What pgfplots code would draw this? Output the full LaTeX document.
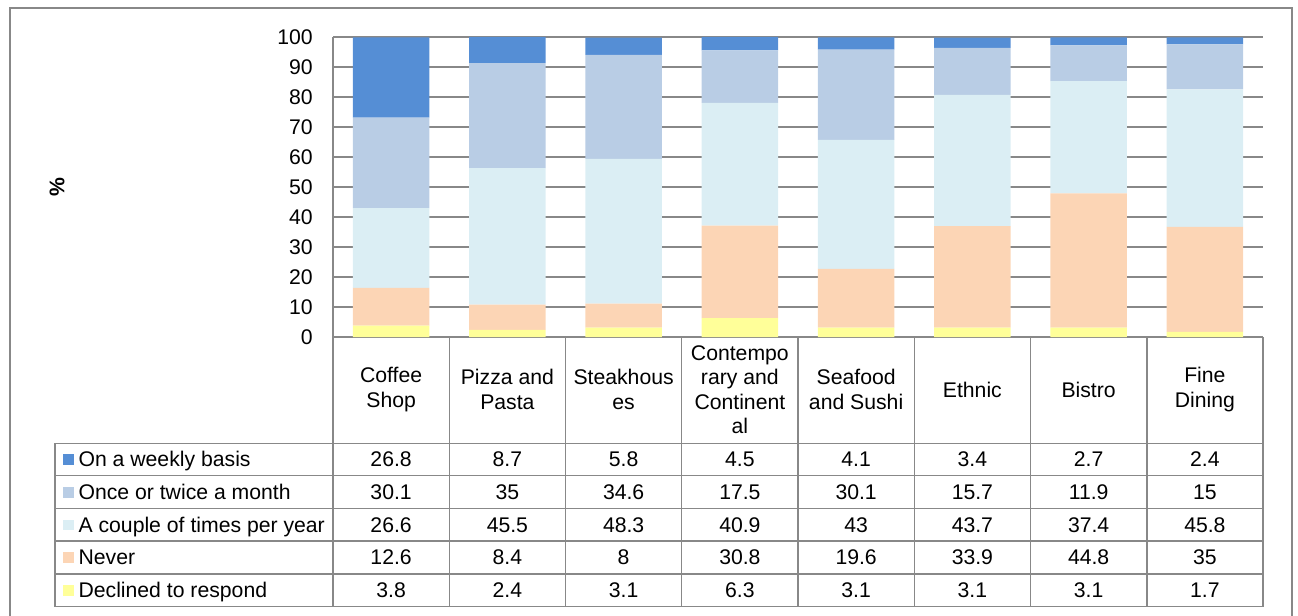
\documentclass[border=0pt]{standalone}
\usepackage{pgfplots}
\usepackage{pgfplotstable}
\pgfplotsset{compat=1.18}
\usepackage{fontspec}
\setmainfont{Liberation Sans}

\definecolor{weekly}{RGB}{85,142,213}
\definecolor{monthly}{RGB}{185,205,229}
\definecolor{yearly}{RGB}{219,238,244}
\definecolor{never}{RGB}{252,213,181}
\definecolor{declined}{RGB}{255,255,153}
\definecolor{gridgray}{RGB}{136,136,136}

\newcommand\chartfont{\fontsize{15.9pt}{18.4pt}\selectfont}

% Share of respondents (%) by visit frequency, per restaurant type
\pgfplotstableread{
cat weekly monthly yearly never declined
0   26.8   30.1    26.6   12.6  3.8
1   8.7    35      45.5   8.4   2.4
2   5.8    34.6    48.3   8     3.1
3   4.5    17.5    40.9   30.8  6.3
4   4.1    30.1    43     19.6  3.1
5   3.4    15.7    43.7   33.9  3.1
6   2.7    11.9    37.4   44.8  3.1
7   2.4    15      45.8   35    1.7
}\freq

\begin{document}
\begin{tikzpicture}[x=0.75pt, y=0.75pt, font=\chartfont]
\begin{axis}[
  at={(249.75pt,208.5pt)}, anchor=south west,
  scale only axis, width=697.5pt, height=225pt,
  ybar stacked, bar width=0.66,
  xmin=-0.5, xmax=7.5, ymin=0, ymax=100,
  xtick={0,...,7},
  xticklabels={Coffee\\Shop, Pizza and\\Pasta, Steakhous\\es,
    Contempo\\rary and\\Continent\\al, Seafood\\and Sushi,
    Ethnic, Bistro, Fine\\Dining},
  xticklabel style={align=center, anchor=center, yshift=-39.5pt, inner sep=0pt},
  ytick={0,10,...,100},
  yticklabel style={anchor=east, inner sep=0pt, xshift=-15pt},
  tick label style={font=\chartfont},
  /pgf/number format/assume math mode=true,
  major tick length=0pt,
  ymajorgrids, grid style={gridgray, line width=1.1pt},
  axis lines*=left, axis line style={gridgray, line width=1.1pt},
  ylabel={\%},
  ylabel style={at={(axis description cs:-0.2968,0.5)}, anchor=center,
    rotate=0, font=\chartfont\bfseries},
  clip=false,
]
\addplot[fill=declined, draw=none] table[x=cat, y=declined]{\freq};
\addplot[fill=never,    draw=none] table[x=cat, y=never]{\freq};
\addplot[fill=yearly,   draw=none] table[x=cat, y=yearly]{\freq};
\addplot[fill=monthly,  draw=none] table[x=cat, y=monthly]{\freq};
\addplot[fill=weekly,   draw=none] table[x=cat, y=weekly]{\freq};
\end{axis}

% data table grid
\begin{scope}[gridgray, line width=1.1pt]
  \foreach \k in {0,...,8}
    \draw (333+116.25*\k, 278) -- (333+116.25*\k, 8.3);
  \foreach \y in {171.7,139.3,106.7,74,41,8.3}
    \draw (55,\y) -- (1263,\y);
  \draw (55,171.7) -- (55,8.3);
\end{scope}

% legend keys and values
\foreach \col/\lab/\yc in {weekly/On a weekly basis/155.4,
    monthly/Once or twice a month/122.7,
    yearly/A couple of times per year/90,
    never/Never/57.4,
    declined/Declined to respond/24.7} {
  \fill[\col] (63.3,\yc-5.35) rectangle (74,\yc+5.35);
  \node[anchor=base west, inner sep=0pt] at (78.3,\yc-7) {\lab};
  \foreach \i in {0,...,7} {
    \pgfplotstablegetelem{\i}{\col}\of\freq
    \node[anchor=base, inner sep=0pt] at (391.125+116.25*\i,\yc-7) {\pgfplotsretval};
  }
}

% outer chart frame
\draw[gridgray, line width=1.1pt] (10,-10) -- (10,607) -- (1292,607) -- (1292,-10);

\pgfresetboundingbox
\useasboundingbox (0,0) rectangle (1298,615);
\end{tikzpicture}
\end{document}
